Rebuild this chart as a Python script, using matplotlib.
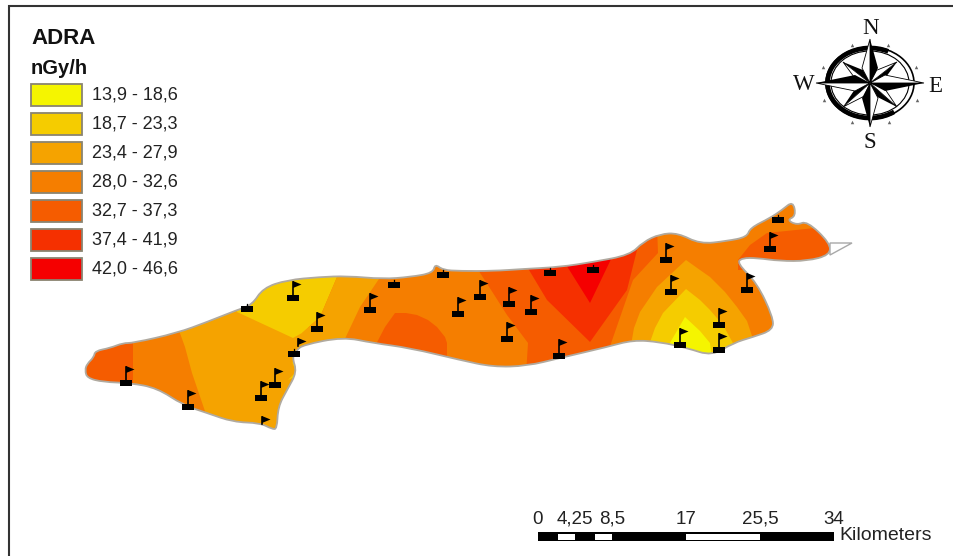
import numpy as np
import matplotlib
matplotlib.use("Agg")
import matplotlib.pyplot as plt
from matplotlib.patches import Polygon, Rectangle, Ellipse, Arc, PathPatch
from matplotlib.path import Path

plt.rcParams['font.family'] = ['Liberation Sans', 'DejaVu Sans']

# ---------------------------
# 1. DATA (all read off the picture, in image pixels)
# ---------------------------
legend_labels = ["13,9 - 18,6", "18,7 - 23,3", "23,4 - 27,9", "28,0 - 32,6",
                 "32,7 - 37,3", "37,4 - 41,9", "42,0 - 46,6"]
legend_colors = ["#f5f500", "#f5cc00", "#f5a300", "#f57e00",
                 "#f55c00", "#f53000", "#f50000"]

scale_labels = ["0", "4,25", "8,5", "17", "25,5", "34"]
scale_values = [0, 4.25, 8.5, 17, 25.5, 34]

outline = [(85, 370), (87, 364), (94, 357), (95, 351), (110, 348), (123, 343), (133, 343),
           (177, 333), (207, 322), (237, 310), (252, 305), (263, 288), (287, 280), (320, 277),
           (347, 276), (383, 279), (410, 277), (433, 273), (435, 264), (443, 270), (460, 271),
           (493, 271), (523, 269), (560, 267), (593, 262), (630, 255), (643, 242), (660, 234),
           (678, 233), (700, 244), (727, 241), (747, 237), (750, 228), (770, 218), (782, 210),
           (793, 201), (796, 216), (787, 220), (797, 225), (807, 221), (830, 243), (830, 255),
           (807, 261), (780, 261), (757, 258), (742, 258), (737, 263), (757, 283), (773, 317),
           (773, 330), (753, 337), (733, 343), (712, 356), (687, 348), (660, 342), (633, 340),
           (607, 347), (560, 358), (527, 366), (493, 367), (460, 360), (410, 348), (373, 343),
           (343, 337), (303, 345), (297, 350), (292, 357), (297, 372), (287, 390), (278, 407),
           (277, 429), (272, 429), (260, 423), (233, 422), (207, 413), (183, 405), (157, 388),
           (130, 383), (103, 382), (87, 378)]
white_tip = [(830, 243), (852, 243), (830, 255)]

# (class index in legend_colors, polygon); later ones paint over earlier ones
zones = [
    (4, [(70, 330), (133, 330), (133, 390), (70, 390)]),
    (2, [(177, 325), (185, 347), (192, 373), (208, 420), (300, 440), (310, 300), (237, 300)]),
    (1, [(237, 312), (293, 338), (302, 333), (320, 317), (340, 270), (240, 270)]),
    (1, [(288, 380), (296, 372), (292, 362), (305, 372)]),
    (2, [(340, 270), (385, 270), (360, 307), (342, 345), (300, 350), (302, 333), (320, 317)]),
    (4, [(373, 350), (385, 327), (395, 313), (406, 313), (417, 315), (428, 320), (437, 327),
         (445, 337), (447, 343), (447, 365)]),
    (4, [(475, 265), (493, 293), (507, 315), (528, 343), (526, 375), (607, 355), (633, 280),
         (658, 253), (657, 225), (560, 255)]),
    (5, [(523, 260), (547, 300), (590, 342), (627, 290), (637, 250)]),
    (6, [(560, 255), (590, 303), (613, 255)]),
    (2, [(686, 260), (700, 270), (710, 277), (725, 292), (737, 307), (747, 321), (755, 345),
         (631, 345), (634, 328), (640, 312), (657, 287)]),
    (1, [(686, 289), (700, 300), (710, 310), (723, 325), (734, 345), (725, 360), (649, 345),
         (655, 328), (663, 313)]),
    (0, [(685, 317), (700, 331), (710, 343), (712, 360), (667, 348)]),
    (4, [(738, 260), (750, 245), (767, 233), (815, 228), (840, 240), (840, 270), (738, 270)]),
]

# base centre of every flag marker
flags_full = [(293, 298), (317, 329), (275, 385), (261, 398), (188, 407), (126, 383), (370, 310),
              (480, 297), (458, 314), (509, 304), (531, 312), (507, 339), (559, 356), (666, 260),
              (671, 292), (719, 325), (680, 345), (747, 290), (770, 249), (719, 350)]
flags_base = [(247, 309), (394, 285), (443, 275), (550, 273), (593, 270), (778, 220), (294, 354)]
flags_head = [(262, 433), (298, 355)]

# compass: offset of the point tips from the centre
compass_cardinal = [(0, -44), (54, 0), (0, 44), (-54, 0)]
compass_diagonal = [(27, -21), (27, 24), (-27, 24), (-27, -21)]
compass_ticks = [(852, 45), (888, 45), (823, 67), (916, 67), (824, 100), (917, 100), (852, 122), (889, 122)]

# ---------------------------
# 2. FIGURE
# ---------------------------
fig = plt.figure(figsize=(9.54, 5.56), dpi=100)
ax = fig.add_axes([0, 0, 1, 1])
ax.set_xlim(0, 954)
ax.set_ylim(556, 0)
ax.axis("off")

# map frame: only the top and left lines are there
ax.plot([954, 8.7, 8.7], [6, 6, 556], color="#333333", lw=1.5, solid_joinstyle="miter")

# ---------------------------
# 3. MAP
# ---------------------------
def smooth_closed(pts):
    # quadratic curve through the edge midpoints, vertices are the control points
    pts = np.array(pts, dtype=float)
    mids = (pts + np.roll(pts, -1, axis=0)) / 2
    verts = [mids[-1]]
    codes = [Path.MOVETO]
    for p, m in zip(pts, mids):
        verts += [p, m]
        codes += [Path.CURVE3, Path.CURVE3]
    return Path(verts, codes)


land_path = smooth_closed(outline)
land = PathPatch(land_path, fc=legend_colors[3], ec="none", zorder=2)
ax.add_patch(land)
for cls, pts in zones:
    z = Polygon(pts, closed=True, fc=legend_colors[cls], ec="none", zorder=3)
    ax.add_patch(z)
    z.set_clip_path(land)
ax.add_patch(PathPatch(land_path, fill=False, ec="#b0aaa0", lw=1.3, zorder=4))
ax.add_patch(Polygon(white_tip, closed=True, fc="white", ec="#a8a8a8", lw=1.0, zorder=4))


def draw_flag(x, y, base=True, pole=16):
    if base:
        ax.add_patch(Rectangle((x - 6, y - 3), 12, 6, fc="black", ec="none", zorder=5))
    ax.plot([x, x], [y - 16, y - 16 + pole], color="black", lw=1.2, zorder=5)
    ax.fill([x, x + 8.5, x], [y - 17, y - 13.5, y - 10], color="black", lw=0, zorder=5)


for x, y in flags_full:
    draw_flag(x, y)
for x, y in flags_base:
    ax.add_patch(Rectangle((x - 6, y - 3), 12, 6, fc="black", ec="none", zorder=5))
    ax.plot([x, x], [y, y - 5], color="black", lw=0.9, zorder=5)
for x, y in flags_head:
    draw_flag(x, y, base=False, pole=7)

# ---------------------------
# 4. LEGEND
# ---------------------------
ax.text(31, 39, "ADRA", fontsize=16, fontweight="bold", va="center", color="#111111")
ax.text(31, 68, "nGy/h", fontsize=14.5, fontweight="bold", va="center", color="#111111")
for i, (lab, col) in enumerate(zip(legend_labels, legend_colors)):
    y = 84 + i * 29
    ax.add_patch(Rectangle((31.5, y), 51, 21.5, fc=col, ec="#8a8470", lw=1.3))
    ax.text(92, y + 11, lab, fontsize=13, va="center", color="#222222")

# ---------------------------
# 5. COMPASS
# ---------------------------
cx, cy = 870, 83
ax.add_patch(Ellipse((cx, cy), 88, 72, fill=False, ec="black", lw=1.2, zorder=6))
ax.add_patch(Ellipse((cx, cy), 78, 64, fill=False, ec="black", lw=0.8, zorder=6))
ax.add_patch(Arc((cx, cy), 85, 70, theta1=50, theta2=300, ec="black", lw=3.4, zorder=6))
for tx, ty in compass_ticks:
    ax.plot(tx, ty, marker="^", ms=2.5, color="#666666", mew=0, zorder=6)


def compass_point(dx, dy, half_width, mid_dist, zorder):
    # one point of the rose: black on the clockwise side, white on the other
    length = np.hypot(dx, dy)
    ux, uy = dx / length, dy / length
    mx, my = cx + ux * mid_dist, cy + uy * mid_dist
    side_x, side_y = -uy * half_width, ux * half_width
    tip = (cx + dx, cy + dy)
    ax.fill([cx, tip[0], mx + side_x], [cy, tip[1], my + side_y], color="black", lw=0, zorder=zorder)
    ax.fill([cx, tip[0], mx - side_x], [cy, tip[1], my - side_y],
            fc="white", ec="black", lw=0.6, zorder=zorder)


for dx, dy in compass_diagonal:
    compass_point(dx, dy, 6, 13, 7)
for dx, dy in compass_cardinal:
    compass_point(dx, dy, 8, 15, 8)

for lab, x, y in [("N", 871, 29), ("S", 870, 142), ("W", 804, 85), ("E", 935, 86)]:
    ax.text(x, y, lab, family="Liberation Serif", fontsize=16.5, ha="center", va="center",
            color="#111111", zorder=9)

# ---------------------------
# 6. SCALE BAR
# ---------------------------
bar_x0, bar_km = 538, (834 - 538) / 34
ax.add_patch(Rectangle((bar_x0, 532), 296, 9, fc="black", ec="none"))
for km0, km1 in [(2.3, 4.25), (6.6, 8.5), (17, 25.5)]:
    ax.add_patch(Rectangle((bar_x0 + km0 * bar_km, 533.5), (km1 - km0) * bar_km, 6, fc="white", ec="none"))
for lab, km in zip(scale_labels, scale_values):
    ax.text(bar_x0 + km * bar_km, 519, lab, fontsize=13.5, ha="center", va="center", color="#222222")
ax.text(839, 535, "Kilometers", fontsize=14, va="center", color="#222222")

fig.savefig("out.png", dpi=100, facecolor="white")
